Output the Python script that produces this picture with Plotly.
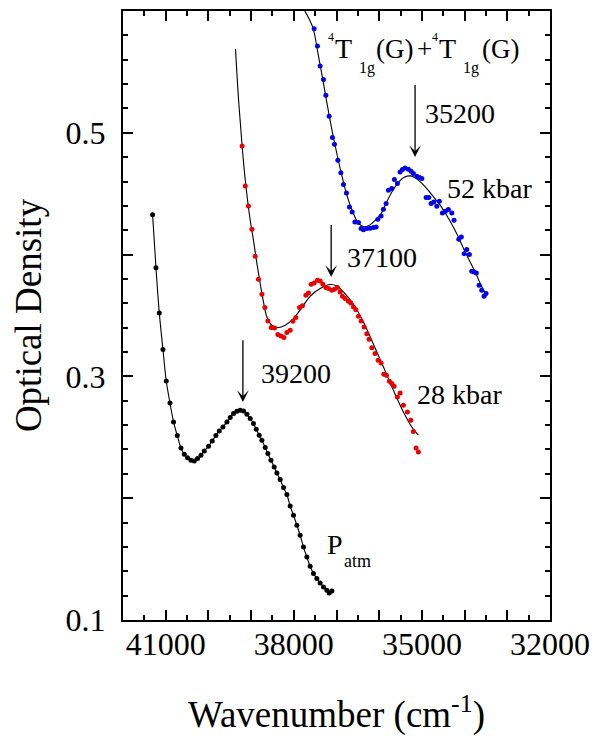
import plotly.graph_objects as go

# ---------------- data (wavenumber cm^-1, optical density) ----------------
black_wn = [41307, 41228, 41150, 41064, 40987, 40900, 40816, 40729, 40643, 40565,
            40488, 40409, 40331, 40254, 40175, 40097, 39997, 39910, 39824, 39746,
            39660, 39566, 39489, 39412, 39332, 39255, 39178, 39098, 39021, 38944,
            38880, 38810, 38747, 38670, 38607, 38536, 38459, 38396, 38319, 38241,
            38162, 38085, 38007, 37928, 37851, 37773, 37694, 37617, 37539, 37460,
            37383, 37305, 37226, 37172, 37109]
black_od = [0.4328, 0.3893, 0.3521, 0.3220, 0.2962, 0.2782, 0.2626, 0.2514, 0.2412, 0.2360,
            0.2333, 0.2311, 0.2305, 0.2325, 0.2352, 0.2388, 0.2426, 0.2470, 0.2514, 0.2552,
            0.2585, 0.2626, 0.2662, 0.2695, 0.2714, 0.2722, 0.2716, 0.2689, 0.2654, 0.2613,
            0.2566, 0.2517, 0.2475, 0.2416, 0.2366, 0.2311, 0.2256, 0.2207, 0.2153, 0.2087,
            0.2030, 0.1936, 0.1860, 0.1778, 0.1695, 0.1599, 0.1517, 0.1441, 0.1381, 0.1340,
            0.1304, 0.1271, 0.1244, 0.1222, 0.1238]

red_wn = [39210, 39136, 39063, 38981, 38904, 38827, 38747, 38677, 38607, 38529,
          38452, 38373, 38302, 38232, 38162, 38085, 38021, 37951, 37867, 37797,
          37717, 37656, 37593, 37523, 37446, 37383, 37319, 37249, 37188, 37109,
          37048, 36978, 36914, 36861, 36798, 36720, 36664, 36603, 36547, 36486,
          36423, 36353, 36290, 36236, 36173, 36095, 36025, 35955, 35892, 35831,
          35761, 35705, 35651, 35573, 35510, 35433, 35339, 35260, 35199, 35136, 35082]
red_od = [0.4891, 0.4564, 0.4398, 0.4208, 0.3986, 0.3797, 0.3674, 0.3565, 0.3455, 0.3401,
          0.3397, 0.3343, 0.3332, 0.3319, 0.3360, 0.3379, 0.3452, 0.3483, 0.3565, 0.3581,
          0.3666, 0.3685, 0.3756, 0.3767, 0.3789, 0.3783, 0.3756, 0.3729, 0.3721, 0.3707,
          0.3715, 0.3729, 0.3693, 0.3658, 0.3639, 0.3617, 0.3603, 0.3570, 0.3548, 0.3494,
          0.3455, 0.3406, 0.3351, 0.3305, 0.3236, 0.3187, 0.3132, 0.3110, 0.3017, 0.3009,
          0.2960, 0.2941, 0.2919, 0.2831, 0.2864, 0.2763, 0.2708, 0.2640, 0.2547, 0.2412, 0.2379]

red_fit_wn = [39365, 39292, 39210, 39136, 39021, 38944, 38864, 38787, 38710, 38630,
              38513, 38358, 38202, 38007, 37811, 37617, 37383, 37149, 36992, 36837,
              36603, 36369, 36135, 35901, 35667, 35433, 35237, 35082]
red_fit_od = [0.5687, 0.5264, 0.4891, 0.4610, 0.4282, 0.4117, 0.3926, 0.3762, 0.3611, 0.3488,
              0.3420, 0.3401, 0.3420, 0.3475, 0.3565, 0.3658, 0.3721, 0.3754, 0.3742, 0.3693,
              0.3592, 0.3447, 0.3264, 0.3077, 0.2886, 0.2708, 0.2585, 0.2517]

blue_wn = [37523, 37446, 37383, 37305, 37249, 37172, 37095, 37048, 36968, 36898,
           36837, 36767, 36697, 36634, 36570, 36486, 36423, 36369, 36290, 36212,
           36135, 36072, 36032, 35955, 35901, 35838, 35784, 35705, 35644, 35573,
           35510, 35456, 35393, 35316, 35253, 35199, 35119, 35059, 35002, 34902,
           34839, 34785, 34722, 34651, 34591, 34520, 34450, 34380, 34300, 34247,
           34137, 34076, 34012, 33949, 33888, 33832, 33778, 33725, 33661, 33598,
           33544, 33498]
blue_od = [0.5855, 0.5713, 0.5548, 0.5437, 0.5308, 0.5135, 0.4961, 0.4906, 0.4774, 0.4673,
           0.4575, 0.4506, 0.4391, 0.4350, 0.4268, 0.4263, 0.4214, 0.4205, 0.4214, 0.4216,
           0.4222, 0.4227, 0.4290, 0.4317, 0.4372, 0.4419, 0.4528, 0.4542, 0.4616, 0.4583,
           0.4678, 0.4698, 0.4711, 0.4700, 0.4684, 0.4665, 0.4643, 0.4632, 0.4624, 0.4468,
           0.4468, 0.4419, 0.4432, 0.4397, 0.4438, 0.4342, 0.4356, 0.4370, 0.4342, 0.4282,
           0.4126, 0.4145, 0.4008, 0.4041, 0.4000, 0.3863, 0.3857, 0.3849, 0.3748, 0.3707,
           0.3658, 0.3680]

blue_fit_wn = [37740, 37554, 37444, 37316, 37178, 37041, 36904, 36767, 36620, 36492,
               36364, 36227, 36090, 35953, 35815, 35678, 35541, 35404, 35266, 35129,
               34992, 34855, 34717, 34580, 34443, 34306, 34168, 34031, 33894, 33757,
               33619, 33528]
blue_fit_od = [0.6000, 0.5864, 0.5673, 0.5428, 0.5155, 0.4910, 0.4692, 0.4501, 0.4351, 0.4261,
               0.4229, 0.4242, 0.4283, 0.4338, 0.4439, 0.4528, 0.4597, 0.4637, 0.4646, 0.4624,
               0.4583, 0.4530, 0.4470, 0.4410, 0.4335, 0.4254, 0.4160, 0.4055, 0.3956, 0.3861,
               0.3752, 0.3689]

# peak arrows: (label, tip wavenumber, tip OD, tail OD)
peak_labels = ["39200", "37100", "35200"]
peak_wn = [39192, 37125, 35160]
peak_tip_od = [0.279, 0.3816, 0.4801]
peak_tail_od = [0.331, 0.4255, 0.5404]
# label anchor positions (left edge wavenumber, vertical centre OD)
peak_label_wn = [38826, 36797, 34972]
peak_label_od = [0.3023, 0.3974, 0.516]

pressure_labels = ["28 kbar", "52 kbar"]
pressure_wn = [35159, 34457]
pressure_od = [0.2853, 0.4544]

x_ticks = [41000, 40000, 39000, 38000, 37000, 36000, 35000, 34000, 33000, 32000]
x_ticktext = ["41000", "", "", "38000", "", "", "35000", "", "", "32000"]
y_ticks = [0.1, 0.2, 0.3, 0.4, 0.5, 0.6]
y_ticktext = ["0.1", "", "0.3", "", "0.5", ""]

FONT = "Liberation Serif"
BLUE = "rgb(0,0,235)"
RED = "rgb(235,0,0)"

fig = go.Figure()

def add_series(wn, od, fit_wn, fit_od, color):
    fig.add_trace(go.Scatter(x=fit_wn, y=fit_od, mode="lines",
                             line=dict(color="black", width=1.1, shape="spline", smoothing=1.0),
                             hoverinfo="skip", showlegend=False))
    fig.add_trace(go.Scatter(x=wn, y=od, mode="markers",
                             marker=dict(color=color, size=5, line=dict(width=0)),
                             showlegend=False))

add_series(black_wn, black_od, black_wn, black_od, "black")
add_series(red_wn, red_od, red_fit_wn, red_fit_od, RED)
add_series(blue_wn, blue_od, blue_fit_wn, blue_fit_od, BLUE)

ann = []
for lab, w, tip, tail, lw, lo in zip(peak_labels, peak_wn, peak_tip_od, peak_tail_od,
                                      peak_label_wn, peak_label_od):
    ann.append(dict(x=w, y=tip, ax=w, ay=tail, xref="x", yref="y", axref="x", ayref="y",
                    text="", showarrow=True, arrowhead=3, arrowsize=1.5, arrowwidth=1.3,
                    arrowcolor="black", standoff=0, startstandoff=0))
    ann.append(dict(x=lw, y=lo, xref="x", yref="y", text=lab, showarrow=False,
                    xanchor="left", yanchor="middle",
                    font=dict(family=FONT, size=28, color="black")))
for lab, w, o in zip(pressure_labels, pressure_wn, pressure_od):
    ann.append(dict(x=w, y=o, xref="x", yref="y", text=lab, showarrow=False,
                    xanchor="left", yanchor="middle",
                    font=dict(family=FONT, size=28, color="black")))

# P_atm label (main letter + subscript)
ann.append(dict(x=37266, y=0.1623, xref="x", yref="y", text="P", showarrow=False,
                xanchor="left", yanchor="middle", font=dict(family=FONT, size=28, color="black")))
ann.append(dict(x=36875, y=0.1485, xref="x", yref="y", text="atm", showarrow=False,
                xanchor="left", yanchor="middle", font=dict(family=FONT, size=18, color="black")))

# transition label  4T1g(G) + 4T1g(G)
trans_text = ["4", "T", "1g", "(G)", "+", "4", "T", "1g", "(G)"]
trans_wn = [37205, 37045, 36470, 36072, 35110, 34765, 34595, 34029, 33598]
trans_od = [0.5784, 0.569, 0.553, 0.569, 0.569, 0.5784, 0.569, 0.553, 0.569]
trans_size = [12, 28, 16, 27, 27, 12, 28, 16, 27]
for t, w, o, s in zip(trans_text, trans_wn, trans_od, trans_size):
    ann.append(dict(x=w, y=o, xref="x", yref="y", text=t, showarrow=False,
                    xanchor="left", yanchor="middle", borderpad=0, borderwidth=0,
                    font=dict(family=FONT, size=s, color="black")))

# the page body adds an 8 px margin, so the figure is 8 px smaller than the window
fig.update_layout(
    width=605, height=730,
    margin=dict(l=115, r=63, t=3, b=118, autoexpand=False),
    paper_bgcolor="white", plot_bgcolor="white",
    font=dict(family=FONT, color="black"),
    annotations=ann,
    showlegend=False,
)
fig.update_xaxes(
    range=[42000, 32000], tickmode="array", tickvals=x_ticks, ticktext=x_ticktext,
    ticks="inside", ticklen=10, tickwidth=2, tickcolor="black", tickangle=0,
    minor=dict(dtick=500, tick0=32000, ticks="inside", ticklen=5, tickwidth=2, tickcolor="black"),
    showline=True, linewidth=2, linecolor="black", mirror="ticks",
    showgrid=False, zeroline=False, automargin=False,
    tickfont=dict(family=FONT, size=32, color="black"),
    ticklabelstandoff=-5,
    title=dict(text="Wavenumber (cm<sup>-1</sup>)", font=dict(family=FONT, size=37, color="black"),
               standoff=40),
)
fig.update_yaxes(
    range=[0.1, 0.6], tickmode="array", tickvals=y_ticks, ticktext=y_ticktext,
    ticks="inside", ticklen=10, tickwidth=2, tickcolor="black", tickangle=0,
    minor=dict(dtick=0.02, tick0=0.1, ticks="inside", ticklen=5, tickwidth=2, tickcolor="black"),
    showline=True, linewidth=2, linecolor="black", mirror="ticks",
    showgrid=False, zeroline=False, automargin=False,
    tickfont=dict(family=FONT, size=32, color="black"),
    ticklabelstandoff=9,
    title=dict(text="Optical Density", font=dict(family=FONT, size=37, color="black"),
               standoff=20),
)

fig.write_html("out.html")
